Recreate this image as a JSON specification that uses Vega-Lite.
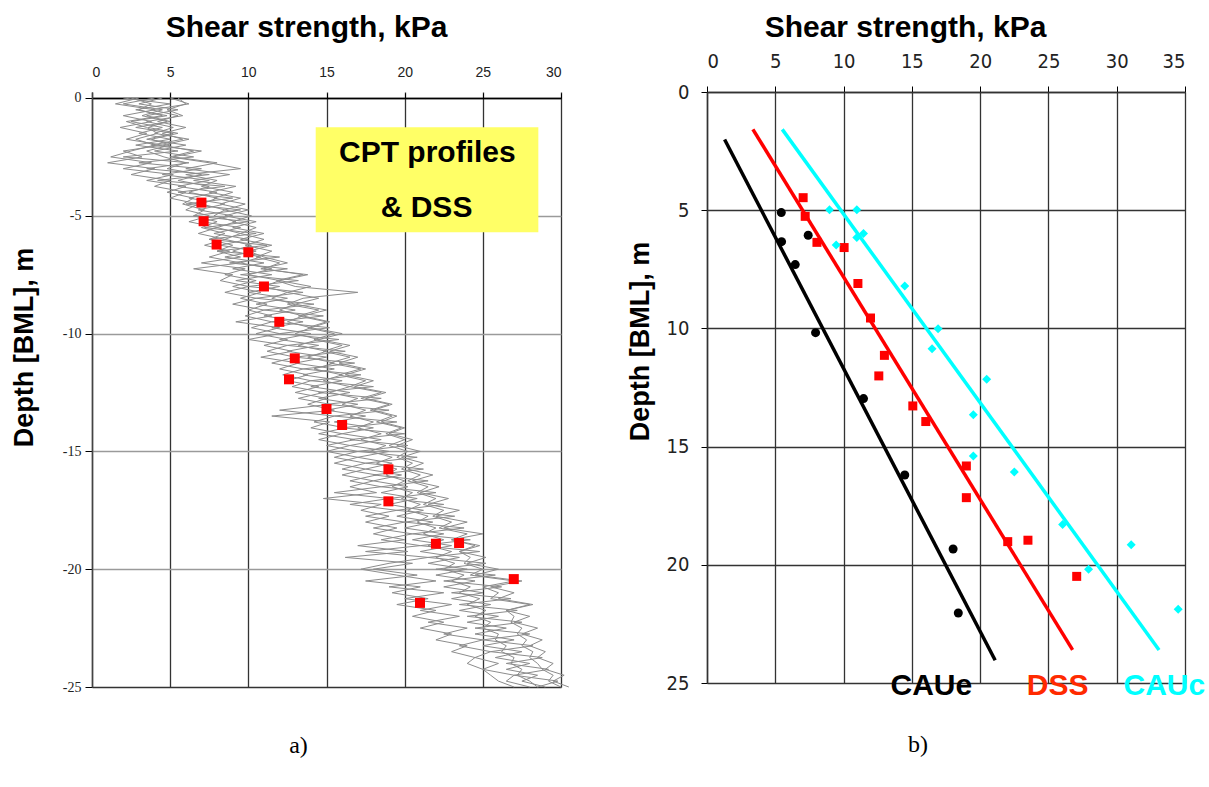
{
  "$schema": "https://vega.github.io/schema/vega-lite/v6.json",
  "padding": {"left": 10, "top": 12, "right": 0, "bottom": 0},
  "background": "white",
  "config": {"font": "Liberation Sans", "view": {"stroke": null}},
  "columns": 2,
  "align": "none",
  "spacing": 55,
  "datasets": {
    "cpt": [
      {"d":0,"a":2.5,"b":4.0,"c":5.5,"e":3.0,"f":5.0,"g":4.5,"h":2.0},{"d":-0.25,"a":3.8,"b":2.0,"c":6.0,"e":1.5,"f":6.2,"g":3.0,"h":5.0},{"d":-0.5,"a":3.0,"b":4.5,"c":4.8,"e":4.0,"f":3.8,"g":5.5,"h":2.8},{"d":-0.75,"a":4.5,"b":3.2,"c":5.8,"e":2.0,"f":5.5,"g":3.5,"h":4.8},
      {"d":-1,"a":2.2,"b":4.8,"c":3.5,"e":3.8,"f":4.2,"g":5.0,"h":2.5},{"d":-1.25,"a":3.5,"b":3.6,"c":5.2,"e":1.8,"f":6.0,"g":2.8,"h":4.5},{"d":-1.5,"a":4.2,"b":5.5,"c":4.0,"e":3.5,"f":4.5,"g":5.2,"h":3.0},{"d":-1.75,"a":2.8,"b":3.8,"c":6.2,"e":2.2,"f":5.8,"g":3.5,"h":5.0},
      {"d":-2,"a":4.0,"b":5.0,"c":4.5,"e":4.5,"f":3.8,"g":6.0,"h":2.8},{"d":-2.25,"a":2.5,"b":3.5,"c":6.5,"e":2.0,"f":7.0,"g":4.0,"h":5.5},{"d":-2.5,"a":1.2,"b":4.6,"c":5.0,"e":3.2,"f":5.2,"g":6.5,"h":2.0},{"d":-2.75,"a":3.8,"b":6.0,"c":7.5,"e":1.0,"f":8.0,"g":3.0,"h":6.2},
      {"d":-3,"a":2.0,"b":4.8,"c":9.5,"e":4.0,"f":6.0,"g":7.0,"h":3.5},{"d":-3.25,"a":5.2,"b":7.0,"c":6.0,"e":2.5,"f":8.8,"g":4.5,"h":7.5},{"d":-3.5,"a":3.5,"b":5.5,"c":8.0,"e":5.0,"f":6.5,"g":7.5,"h":4.2},{"d":-3.75,"a":6.0,"b":7.5,"c":7.0,"e":4.0,"f":9.2,"g":5.5,"h":8.5},
      {"d":-4,"a":4.8,"b":6.2,"c":9.0,"e":6.0,"f":7.5,"g":8.0,"h":5.5},{"d":-4.25,"a":6.5,"b":8.0,"c":7.8,"e":5.0,"f":9.5,"g":6.2,"h":9.0},{"d":-4.5,"a":5.8,"b":7.0,"c":9.8,"e":6.8,"f":8.2,"g":8.5,"h":6.0},{"d":-4.75,"a":7.2,"b":8.5,"c":8.5,"e":6.0,"f":10.0,"g":6.8,"h":9.5},
      {"d":-5,"a":6.5,"b":7.8,"c":10.2,"e":7.5,"f":8.5,"g":9.0,"h":6.5},{"d":-5.25,"a":8.0,"b":9.2,"c":9.0,"e":6.2,"f":10.5,"g":7.0,"h":10.0},{"d":-5.5,"a":7.0,"b":8.0,"c":10.5,"e":8.0,"f":9.0,"g":9.5,"h":7.2},{"d":-5.75,"a":8.5,"b":9.5,"c":9.5,"e":6.8,"f":11.0,"g":7.8,"h":10.5},
      {"d":-6,"a":7.5,"b":8.5,"c":11.0,"e":8.5,"f":9.5,"g":10.0,"h":7.5},{"d":-6.25,"a":9.0,"b":10.2,"c":9.8,"e":7.2,"f":11.5,"g":8.2,"h":11.2},{"d":-6.5,"a":8.0,"b":9.0,"c":11.5,"e":8.8,"f":10.0,"g":10.5,"h":8.0},{"d":-6.75,"a":9.5,"b":10.8,"c":10.5,"e":7.5,"f":11.0,"g":8.5,"h":12.0},
      {"d":-7,"a":7.0,"b":9.5,"c":12.0,"e":9.5,"f":12.5,"g":11.0,"h":8.8},{"d":-7.25,"a":9.8,"b":11.5,"c":11.0,"e":6.5,"f":10.8,"g":9.0,"h":12.5},{"d":-7.5,"a":8.5,"b":10.0,"c":13.5,"e":9.0,"f":13.8,"g":11.5,"h":9.5},{"d":-7.75,"a":10.5,"b":12.0,"c":11.8,"e":8.2,"f":12.0,"g":9.2,"h":13.2},
      {"d":-8,"a":9.0,"b":11.0,"c":13.0,"e":10.0,"f":14.0,"g":12.0,"h":10.0},{"d":-8.25,"a":10.8,"b":12.5,"c":17.0,"e":8.5,"f":12.5,"g":10.0,"h":13.5},{"d":-8.5,"a":9.5,"b":11.5,"c":13.5,"e":10.5,"f":14.5,"g":12.5,"h":10.5},{"d":-8.75,"a":11.2,"b":13.0,"c":12.5,"e":9.0,"f":13.0,"g":10.5,"h":14.2},
      {"d":-9,"a":10.0,"b":12.0,"c":14.5,"e":11.0,"f":15.0,"g":13.0,"h":11.0},{"d":-9.25,"a":11.5,"b":13.5,"c":13.2,"e":9.8,"f":13.5,"g":11.0,"h":14.8},{"d":-9.5,"a":9.2,"b":12.5,"c":15.0,"e":11.5,"f":15.2,"g":13.5,"h":11.5},{"d":-9.75,"a":12.0,"b":14.0,"c":13.8,"e":10.2,"f":14.0,"g":11.5,"h":15.2},
      {"d":-10,"a":10.5,"b":13.0,"c":15.5,"e":12.0,"f":16.0,"g":14.0,"h":12.0},{"d":-10.25,"a":12.5,"b":14.5,"c":14.2,"e":10.0,"f":14.5,"g":12.0,"h":15.8},{"d":-10.5,"a":11.0,"b":13.2,"c":16.0,"e":12.5,"f":16.5,"g":14.5,"h":12.5},{"d":-10.75,"a":12.8,"b":15.0,"c":14.8,"e":11.2,"f":15.2,"g":12.5,"h":16.2},
      {"d":-11,"a":10.8,"b":13.8,"c":16.5,"e":13.0,"f":17.0,"g":15.0,"h":13.0},{"d":-11.25,"a":13.2,"b":15.5,"c":15.2,"e":11.5,"f":15.8,"g":13.0,"h":16.8},{"d":-11.5,"a":12.0,"b":14.2,"c":17.2,"e":13.5,"f":17.5,"g":15.5,"h":13.5},{"d":-11.75,"a":13.8,"b":16.0,"c":15.8,"e":12.2,"f":16.2,"g":13.5,"h":17.2},
      {"d":-12,"a":12.5,"b":14.8,"c":17.5,"e":14.0,"f":18.0,"g":16.0,"h":14.0},{"d":-12.25,"a":14.5,"b":16.5,"c":16.5,"e":12.8,"f":16.8,"g":14.0,"h":18.0},{"d":-12.5,"a":13.0,"b":15.2,"c":18.5,"e":14.8,"f":18.8,"g":16.5,"h":14.5},{"d":-12.75,"a":15.0,"b":17.0,"c":17.2,"e":13.2,"f":17.5,"g":14.5,"h":18.5},
      {"d":-13,"a":13.8,"b":16.0,"c":19.0,"e":15.2,"f":19.2,"g":17.0,"h":15.0},{"d":-13.25,"a":15.5,"b":17.5,"c":17.8,"e":12.0,"f":18.0,"g":15.0,"h":19.0},{"d":-13.5,"a":11.5,"b":16.5,"c":19.2,"e":15.5,"f":19.5,"g":17.5,"h":15.5},{"d":-13.75,"a":15.2,"b":18.0,"c":18.2,"e":14.2,"f":18.5,"g":15.5,"h":19.5},
      {"d":-14,"a":14.0,"b":17.0,"c":19.8,"e":16.2,"f":20.0,"g":18.0,"h":16.0},{"d":-14.25,"a":16.0,"b":18.5,"c":18.8,"e":14.5,"f":19.0,"g":16.0,"h":20.0},{"d":-14.5,"a":14.5,"b":17.2,"c":20.0,"e":16.8,"f":20.5,"g":18.5,"h":16.5},{"d":-14.75,"a":16.5,"b":18.8,"c":19.0,"e":15.0,"f":19.5,"g":16.5,"h":20.2},
      {"d":-15,"a":15.0,"b":17.8,"c":20.2,"e":17.0,"f":21.0,"g":19.0,"h":17.0},{"d":-15.25,"a":17.0,"b":19.2,"c":19.5,"e":15.5,"f":19.8,"g":17.0,"h":20.8},{"d":-15.5,"a":15.5,"b":18.2,"c":20.5,"e":17.5,"f":21.2,"g":19.2,"h":17.5},{"d":-15.75,"a":17.5,"b":19.5,"c":19.8,"e":16.0,"f":20.2,"g":17.5,"h":21.2},
      {"d":-16,"a":16.0,"b":18.8,"c":21.0,"e":18.2,"f":21.8,"g":19.8,"h":18.0},{"d":-16.25,"a":18.0,"b":20.0,"c":20.2,"e":16.5,"f":20.5,"g":18.0,"h":21.5},{"d":-16.5,"a":16.5,"b":19.2,"c":21.5,"e":18.5,"f":22.2,"g":20.2,"h":18.5},{"d":-16.75,"a":18.2,"b":20.5,"c":20.8,"e":15.5,"f":21.0,"g":18.5,"h":22.0},
      {"d":-17,"a":14.8,"b":19.8,"c":22.0,"e":19.0,"f":22.8,"g":20.8,"h":19.0},{"d":-17.25,"a":18.5,"b":21.0,"c":21.2,"e":16.5,"f":21.5,"g":19.0,"h":22.5},{"d":-17.5,"a":17.2,"b":20.2,"c":22.5,"e":19.5,"f":23.5,"g":21.2,"h":19.5},{"d":-17.75,"a":19.0,"b":21.5,"c":21.8,"e":17.5,"f":22.0,"g":19.5,"h":23.2},
      {"d":-18,"a":17.5,"b":20.8,"c":23.0,"e":20.0,"f":24.0,"g":21.8,"h":20.0},{"d":-18.25,"a":19.5,"b":22.0,"c":22.2,"e":18.0,"f":22.5,"g":20.0,"h":23.8},{"d":-18.5,"a":18.0,"b":21.2,"c":24.0,"e":20.5,"f":25.0,"g":22.5,"h":20.5},{"d":-18.75,"a":20.0,"b":22.5,"c":23.0,"e":18.5,"f":23.0,"g":20.5,"h":24.2},
      {"d":-19,"a":17.0,"b":21.5,"c":24.8,"e":21.0,"f":24.5,"g":23.0,"h":21.0},{"d":-19.25,"a":20.2,"b":23.0,"c":23.5,"e":17.5,"f":23.5,"g":21.0,"h":24.8},{"d":-19.5,"a":16.2,"b":22.0,"c":24.2,"e":21.5,"f":25.2,"g":23.5,"h":21.5},{"d":-19.75,"a":20.5,"b":23.2,"c":23.8,"e":19.0,"f":24.0,"g":21.5,"h":25.2},
      {"d":-20,"a":18.0,"b":22.5,"c":25.0,"e":17.2,"f":26.0,"g":24.0,"h":22.0},{"d":-20.25,"a":20.8,"b":23.8,"c":24.2,"e":19.5,"f":24.5,"g":22.0,"h":25.8},{"d":-20.5,"a":17.5,"b":23.0,"c":27.0,"e":22.0,"f":27.5,"g":24.5,"h":22.5},{"d":-20.75,"a":21.0,"b":24.2,"c":25.0,"e":19.0,"f":25.5,"g":22.5,"h":26.2},
      {"d":-21,"a":19.2,"b":23.5,"c":26.0,"e":22.5,"f":27.0,"g":25.0,"h":23.0},{"d":-21.25,"a":21.5,"b":24.8,"c":25.5,"e":20.0,"f":26.0,"g":23.0,"h":26.8},{"d":-21.5,"a":19.5,"b":24.0,"c":28.0,"e":23.0,"f":28.2,"g":25.5,"h":23.5},{"d":-21.75,"a":22.0,"b":25.2,"c":26.5,"e":21.0,"f":26.5,"g":23.5,"h":27.2},
      {"d":-22,"a":20.5,"b":24.5,"c":27.0,"e":23.5,"f":28.0,"g":26.0,"h":24.0},{"d":-22.25,"a":22.5,"b":25.5,"c":26.8,"e":21.5,"f":27.0,"g":24.0,"h":27.5},{"d":-22.5,"a":21.0,"b":25.0,"c":27.5,"e":24.0,"f":28.5,"g":26.5,"h":24.5},{"d":-22.75,"a":23.0,"b":26.0,"c":27.2,"e":22.5,"f":27.5,"g":24.5,"h":28.0},
      {"d":-23,"a":22.0,"b":25.8,"c":27.8,"e":25.0,"f":28.8,"g":27.0,"h":25.0},{"d":-23.25,"a":24.0,"b":26.5,"c":27.5,"e":23.5,"f":28.0,"g":25.0,"h":28.2},{"d":-23.5,"a":23.0,"b":26.2,"c":28.2,"e":25.5,"f":29.0,"g":27.5,"h":25.5},{"d":-23.75,"a":24.5,"b":27.0,"c":28.0,"e":24.5,"f":28.5,"g":25.8,"h":28.8},
      {"d":-24,"a":24.0,"b":26.8,"c":28.5,"e":26.0,"f":29.5,"g":28.0,"h":26.5},{"d":-24.25,"a":25.0,"b":27.5,"c":28.8,"e":25.0,"f":29.0,"g":26.5,"h":29.2},{"d":-24.5,"a":25.5,"b":27.2,"c":29.5,"e":27.0,"f":30.2,"g":28.5,"h":27.0},{"d":-24.75,"a":26.0,"b":28.0,"c":29.2,"e":26.5,"f":29.5,"g":27.5,"h":29.8},
      {"d":-25,"a":27.0,"b":28.5,"c":30.0,"e":28.0,"f":30.5,"g":29.0,"h":28.5}
    ],
    "dssLeft": [
      {"s":7.0,"d":-4.44},{"s":7.14,"d":-5.23},{"s":7.97,"d":-6.22},{"s":10.0,"d":-6.55},{"s":11.0,"d":-8.0},{"s":11.98,"d":-9.5},
      {"s":12.97,"d":-11.05},{"s":12.6,"d":-11.94},{"s":15.0,"d":-13.2},{"s":16.0,"d":-13.88},{"s":18.96,"d":-15.76},{"s":18.96,"d":-17.12},
      {"s":22.0,"d":-18.92},{"s":23.48,"d":-18.89},{"s":26.98,"d":-20.42},{"s":20.98,"d":-21.43}
    ],
    "tests": [
      {"t":"CAUe","s":5.44,"d":5.10},{"t":"CAUe","s":5.46,"d":6.33},{"t":"CAUe","s":7.41,"d":6.06},{"t":"CAUe","s":6.46,"d":7.30},
      {"t":"CAUe","s":7.95,"d":10.18},{"t":"CAUe","s":11.46,"d":12.97},{"t":"CAUe","s":14.48,"d":16.2},{"t":"CAUe","s":18.02,"d":19.33},
      {"t":"CAUe","s":18.4,"d":22.04},
      {"t":"DSS","s":7.04,"d":4.47},{"t":"DSS","s":7.19,"d":5.26},{"t":"DSS","s":8.05,"d":6.36},{"t":"DSS","s":10.04,"d":6.58},
      {"t":"DSS","s":11.05,"d":8.1},{"t":"DSS","s":11.97,"d":9.56},{"t":"DSS","s":12.99,"d":11.14},{"t":"DSS","s":12.58,"d":12.01},
      {"t":"DSS","s":15.07,"d":13.28},{"t":"DSS","s":16.02,"d":13.94},{"t":"DSS","s":18.99,"d":15.82},{"t":"DSS","s":18.99,"d":17.16},
      {"t":"DSS","s":22.02,"d":19.02},{"t":"DSS","s":23.5,"d":18.96},{"t":"DSS","s":27.07,"d":20.49},
      {"t":"CAUc","s":8.97,"d":4.98},{"t":"CAUc","s":10.97,"d":4.98},{"t":"CAUc","s":11.46,"d":5.99},{"t":"CAUc","s":10.97,"d":6.15},
      {"t":"CAUc","s":9.46,"d":6.47},{"t":"CAUc","s":14.48,"d":8.21},{"t":"CAUc","s":16.92,"d":10.01},{"t":"CAUc","s":16.48,"d":10.86},
      {"t":"CAUc","s":20.48,"d":12.15},{"t":"CAUc","s":19.5,"d":13.65},{"t":"CAUc","s":19.5,"d":15.4},{"t":"CAUc","s":22.5,"d":16.07},
      {"t":"CAUc","s":26.04,"d":18.3},{"t":"CAUc","s":31.06,"d":19.15},{"t":"CAUc","s":27.94,"d":20.19},{"t":"CAUc","s":34.5,"d":21.88}
    ],
    "trends": [
      {"t":"CAUe","s":1.29,"d":2.01},{"t":"CAUe","s":21.1,"d":24.04},
      {"t":"DSS","s":3.36,"d":1.58},{"t":"DSS","s":26.77,"d":23.6},
      {"t":"CAUc","s":5.51,"d":1.58},{"t":"CAUc","s":33.1,"d":23.6}
    ]
  },
  "concat": [
    {
      "width": 469,
      "height": 595,
      "title": {"text": "a)", "orient": "bottom", "font": "Liberation Serif", "fontSize": 24, "fontWeight": "normal", "frame": "group", "dx": -28, "offset": 40},
      "layer": [
        {
          "data": {"name": "cpt"},
          "transform": [{"fold": ["a", "b", "c", "e", "f", "g", "h"], "as": ["p", "s"]}],
          "mark": {"type": "line", "color": "#8c8c8c", "strokeWidth": 1},
          "encoding": {
            "x": {"field": "s", "type": "quantitative", "scale": {"domain": [0, 30], "nice": false, "zero": false},
              "axis": {"orient": "top", "offset": -6, "values": [0,5,10,15,20,25,30], "title": "Shear strength, kPa",
                "titleFontSize": 30, "titleFontWeight": "bold", "titleColor": "#000", "titlePadding": 23, "titleX": 214,
                "labelFont": "Liberation Sans", "labelFontSize": 14, "labelColor": "#222",
                "labelPadding": 14, "tickSize": 5, "tickColor": "#000", "domainColor": "#000", "domainWidth": 1.5,
                "grid": true, "gridColor": "#333", "gridWidth": 1.3, "gridOpacity": 1}},
            "y": {"field": "d", "type": "quantitative", "scale": {"domain": [-25, 0.2546], "nice": false, "zero": false},
              "axis": {"values": [-25,-20,-15,-10,-5,0], "title": "Depth [BML], m",
                "labelExpr": "datum.value < 0 ? '-' + abs(datum.value) : '' + datum.value",
                "titleFontSize": 27, "titleFontWeight": "bold", "titleColor": "#000", "titlePadding": 24, "titleY": 255,
                "labelFont": "Liberation Serif", "labelFontSize": 14, "labelColor": "#222", "labelPadding": 4,
                "tickSize": 7, "tickColor": "#000", "domainColor": "#444", "domainWidth": 1.5,
                "grid": true, "gridColor": {"condition": {"test": "datum.value === -25 || datum.value === 0", "value": "#333"}, "value": "#9a9a9a"},
                "gridWidth": 1.5, "gridOpacity": 1}},
            "detail": {"field": "p"},
            "order": {"field": "d", "sort": "descending"}
          }
        },
        {
          "data": {"name": "dssLeft"},
          "mark": {"type": "point", "shape": "square", "filled": true, "color": "#ff0000", "size": 100, "opacity": 1},
          "encoding": {
            "x": {"field": "s", "type": "quantitative"},
            "y": {"field": "d", "type": "quantitative"}
          }
        },
        {
          "data": {"values": [{}]},
          "mark": {"type": "rect", "color": "#ffff66", "opacity": 1},
          "encoding": {
            "x": {"datum": 14.31, "type": "quantitative"},
            "x2": {"datum": 28.55},
            "y": {"datum": -1.24, "type": "quantitative"},
            "y2": {"datum": -5.70}
          }
        },
        {
          "data": {"values": [{}]},
          "mark": {"type": "text", "text": "CPT profiles", "font": "Liberation Sans", "fontSize": 30, "fontWeight": "bold", "color": "#000", "baseline": "middle", "align": "center"},
          "encoding": {"x": {"datum": 21.45, "type": "quantitative"}, "y": {"datum": -2.35, "type": "quantitative"}}
        },
        {
          "data": {"values": [{}]},
          "mark": {"type": "text", "text": "& DSS", "font": "Liberation Sans", "fontSize": 30, "fontWeight": "bold", "color": "#000", "baseline": "middle", "align": "center"},
          "encoding": {"x": {"datum": 21.4, "type": "quantitative"}, "y": {"datum": -4.67, "type": "quantitative"}}
        }
      ]
    },
    {
      "width": 478,
      "height": 591,
      "title": {"text": "b)", "orient": "bottom", "font": "Liberation Serif", "fontSize": 24, "fontWeight": "normal", "frame": "group", "dx": -28, "offset": 32},
      "layer": [
        {
          "data": {"name": "trends"},
          "mark": {"type": "line", "strokeWidth": 3.5},
          "encoding": {
            "x": {"field": "s", "type": "quantitative", "scale": {"domain": [0, 35], "nice": false, "zero": false},
              "axis": {"orient": "top", "values": [0,5,10,15,20,25,30,35], "title": "Shear strength, kPa",
                "titleFontSize": 30, "titleFontWeight": "bold", "titleColor": "#000", "titlePadding": 9, "titleX": 198,
                "labelFont": "Liberation Sans Narrow, DejaVu Sans Condensed, Liberation Sans", "labelFontSize": 20, "labelColor": "#222",
                "labelPadding": 15, "tickSize": 6, "tickColor": "#000", "domainColor": "#333", "domainWidth": 1.5,
                "grid": true, "gridColor": "#333", "gridWidth": 1.3, "gridOpacity": 1}},
            "y": {"field": "d", "type": "quantitative", "scale": {"domain": [0, 25], "reverse": true, "nice": false, "zero": false},
              "axis": {"values": [0,5,10,15,20,25], "title": "Depth [BML], m",
                "titleFontSize": 27, "titleFontWeight": "bold", "titleColor": "#000", "titlePadding": 12, "titleY": 249,
                "labelFont": "Liberation Sans Narrow, DejaVu Sans Condensed, Liberation Sans", "labelFontSize": 20, "labelColor": "#222", "labelPadding": 12,
                "tickSize": 6, "tickColor": "#000", "domainColor": "#333", "domainWidth": 1.5,
                "grid": true, "gridColor": "#333", "gridWidth": 1.3, "gridOpacity": 1}},
            "color": {"field": "t", "type": "nominal", "scale": {"domain": ["CAUe", "DSS", "CAUc"], "range": ["#000000", "#ff0000", "#00ffff"]}, "legend": null},
            "detail": {"field": "t"}
          }
        },
        {
          "data": {"name": "tests"},
          "mark": {"type": "point", "filled": true, "opacity": 1},
          "encoding": {
            "x": {"field": "s", "type": "quantitative"},
            "y": {"field": "d", "type": "quantitative"},
            "color": {"field": "t", "type": "nominal", "scale": {"domain": ["CAUe", "DSS", "CAUc"], "range": ["#000000", "#ff0000", "#00ffff"]}, "legend": null},
            "shape": {"field": "t", "type": "nominal", "scale": {"domain": ["CAUe", "DSS", "CAUc"], "range": ["circle", "square", "diamond"]}, "legend": null},
            "size": {"field": "t", "type": "nominal", "scale": {"domain": ["CAUe", "DSS", "CAUc"], "range": [81, 81, 121]}, "legend": null}
          }
        },
        {
          "data": {"values": [{}]},
          "mark": {"type": "text", "text": "CAUe", "font": "Liberation Sans", "fontSize": 30, "fontWeight": "bold", "color": "#000000", "baseline": "alphabetic", "align": "center"},
          "encoding": {"x": {"datum": 16.43, "type": "quantitative"}, "y": {"datum": 25.5, "type": "quantitative"}}
        },
        {
          "data": {"values": [{}]},
          "mark": {"type": "text", "text": "DSS", "font": "Liberation Sans", "fontSize": 30, "fontWeight": "bold", "color": "#ff2a00", "baseline": "alphabetic", "align": "center"},
          "encoding": {"x": {"datum": 25.68, "type": "quantitative"}, "y": {"datum": 25.5, "type": "quantitative"}}
        },
        {
          "data": {"values": [{}]},
          "mark": {"type": "text", "text": "CAUc", "font": "Liberation Sans", "fontSize": 30, "fontWeight": "bold", "color": "#00ffff", "baseline": "alphabetic", "align": "left"},
          "encoding": {"x": {"datum": 30.5, "type": "quantitative"}, "y": {"datum": 25.5, "type": "quantitative"}}
        }
      ]
    }
  ]
}
